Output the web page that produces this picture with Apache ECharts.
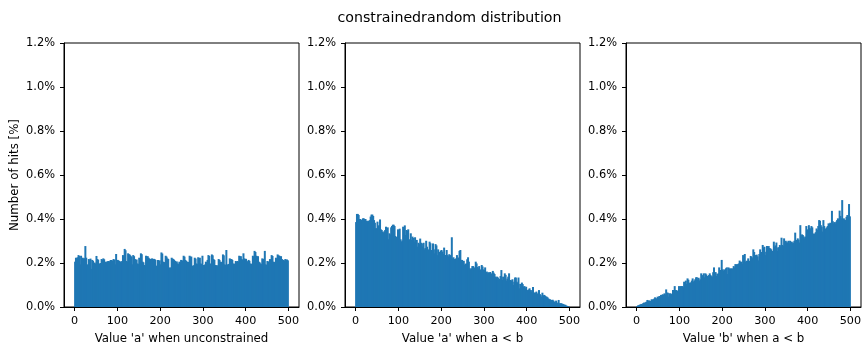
<!DOCTYPE html>
<html><head><meta charset="utf-8">
<script src="https://cdn.jsdelivr.net/npm/echarts@6/dist/echarts.min.js"></script>
<style>html,body{margin:0;padding:0;background:#fff}#c{width:862px;height:347px}</style>
</head><body><div id="c"></div>
<script>
// Histogram bins: [0,2), [2,4), ... [498,500); values are hit percentages in units of 0.001 %
const binStart = 0;
const binWidth = 2;
const hitsAUnconstrained = [
206,224,220,226,236,232,194,233,191,224,
219,222,277,224,191,194,218,214,220,173,
214,210,198,202,196,232,218,215,198,194,
200,218,214,221,217,183,206,203,208,209,
205,211,214,210,212,218,215,194,241,194,
214,211,209,206,203,209,236,232,264,258,
209,206,244,240,238,233,229,194,236,231,
218,214,216,198,195,224,221,244,240,206,
203,191,188,233,229,231,224,220,218,215,
221,217,219,218,214,188,185,214,210,212,
194,248,243,206,202,204,233,229,221,218,
176,180,178,224,220,218,214,209,205,207,
198,195,206,203,214,210,212,233,229,214,
210,206,203,205,233,229,229,188,185,190,
224,220,198,195,226,222,224,198,195,233,
191,188,193,206,203,214,236,232,198,195,
239,235,218,214,191,188,190,183,218,214,
206,203,205,239,235,194,191,259,194,191,
196,221,217,218,214,198,195,197,209,205,
209,206,233,229,231,218,214,244,221,217,
219,209,205,214,210,198,195,197,233,229,
255,250,233,229,231,206,203,198,195,221,
217,219,255,194,191,209,205,207,218,214,
236,232,206,203,205,224,220,239,235,233,
229,231,218,214,214,210,218,214,216,212];
const hitsAWhenALessB = [
386,423,423,418,400,400,396,383,403,403,
400,400,392,388,392,380,395,411,420,420,
414,395,383,358,358,388,368,372,398,353,
350,342,338,344,350,365,327,362,308,335,
330,362,368,374,374,368,323,318,317,353,
317,356,308,297,302,365,308,371,327,350,
346,353,308,301,335,305,320,314,297,317,
289,305,274,292,286,311,292,289,274,292,
262,268,301,274,259,262,297,290,259,252,
289,262,244,286,280,236,262,229,250,256,
259,252,241,270,236,236,259,236,230,240,
229,236,317,221,226,218,218,221,236,221,
225,255,259,214,214,206,210,191,196,198,
217,226,206,176,171,176,186,186,168,180,
206,198,182,176,186,171,161,191,184,171,
168,180,156,161,153,158,156,159,153,150,
164,156,150,138,134,138,134,123,128,141,
168,123,138,123,153,146,120,129,138,153,
115,123,118,126,100,115,134,134,115,110,
134,85,105,95,111,104,92,95,85,92,
77,74,80,85,77,70,77,91,62,66,
65,70,62,59,77,59,54,47,65,50,
55,52,48,47,44,39,35,35,32,30,
33,29,24,20,29,17,20,32,17,17,
17,15,14,12,10,10,6,5,3,2];
const hitsBWhenALessB = [
4,7,8,10,12,14,12,17,20,17,
22,24,32,28,30,24,28,35,33,35,
38,44,35,40,47,44,50,46,55,47,
58,55,62,57,80,65,65,47,62,62,
58,60,77,77,95,77,77,72,74,95,
74,95,95,95,90,115,108,120,105,130,
124,108,111,111,120,130,115,120,126,135,
135,123,133,120,126,153,145,141,153,135,
153,148,141,135,145,153,145,140,138,158,
180,158,158,141,150,153,180,168,168,214,
171,165,171,161,176,180,150,180,174,176,
168,176,171,186,180,195,192,195,192,198,
211,205,206,195,236,198,241,205,210,210,
221,210,208,232,228,222,262,250,236,234,
238,230,212,241,262,250,236,282,270,274,
236,251,277,259,277,268,266,262,250,255,
297,274,280,293,255,271,271,282,276,315,
282,277,312,297,301,294,293,301,289,301,
289,297,290,293,301,338,305,301,312,306,
293,372,320,330,327,320,312,320,368,343,
353,372,360,353,368,362,334,327,334,340,
357,350,368,395,392,372,365,343,395,368,
353,357,362,368,380,378,383,338,437,390,
380,386,380,388,395,403,398,438,414,403,
486,399,403,396,395,410,418,407,468,412];
const xTickValues = [0, 100, 200, 300, 400, 500];
const yMax = 1.2, yStep = 0.2;
const panelXNames = ["Value 'a' when unconstrained", "Value 'a' when a < b", "Value 'b' when a < b"];
const yName = 'Number of hits [%]';
const chartTitle = 'constrainedrandom distribution';

const FONT = 'DejaVu Sans';
const panels = [hitsAUnconstrained, hitsAWhenALessB, hitsBWhenALessB];
const lefts = [64, 345, 626];
const chart = echarts.init(document.getElementById('c'), null, {renderer: 'canvas'});

const grid = lefts.map(l => ({left: l, top: 43, width: 235, height: 264, show: true,
  borderColor: '#000', borderWidth: 1, backgroundColor: 'rgba(0,0,0,0)',
  containLabel: false, outerBoundsMode: 'none'}));
const xAxis = panelXNames.map((nm, i) => ({
  type: 'value', gridIndex: i, min: -25, max: 525, z: 10,
  name: nm, nameLocation: 'middle', nameGap: 26,
  nameTextStyle: {fontFamily: FONT, fontSize: 11.8, color: '#000'},
  axisLine: {show: true, onZero: false, lineStyle: {color: '#000', width: 1}},
  axisTick: {show: true, length: 4, lineStyle: {color: '#000', width: 1}, customValues: xTickValues},
  axisLabel: {show: true, margin: 9, fontFamily: FONT, fontSize: 11.2, color: '#000', customValues: xTickValues},
  splitLine: {show: false}
}));
const yAxis = lefts.map((l, i) => ({
  type: 'value', gridIndex: i, min: 0, max: yMax, interval: yStep, z: 10,
  name: i === 0 ? yName : '', nameLocation: 'middle', nameGap: 43, nameRotate: 90,
  nameTextStyle: {fontFamily: FONT, fontSize: 11.8, color: '#000'},
  axisLine: {show: true, onZero: false, lineStyle: {color: '#000', width: 1}},
  axisTick: {show: true, length: 4, lineStyle: {color: '#000', width: 1}},
  axisLabel: {show: true, margin: 9, fontFamily: FONT, fontSize: 11.4, color: '#000',
    formatter: v => v.toFixed(1) + '%'},
  splitLine: {show: false}
}));
const series = panels.map((vals, i) => ({
  type: 'bar', xAxisIndex: i, yAxisIndex: i, barWidth: 2, z: 2,
  itemStyle: {color: '#1f77b4'},
  data: vals.map((v, k) => [binStart + binWidth * (k + 0.5), v / 1000])
}));

chart.setOption({
  animation: false,
  backgroundColor: '#fff',
  title: {text: chartTitle, left: 444.5, top: 6, textAlign: 'center',
    textStyle: {fontFamily: FONT, fontSize: 14.2, fontWeight: 'normal', color: '#000'}},
  grid, xAxis, yAxis, series
});
</script></body></html>
